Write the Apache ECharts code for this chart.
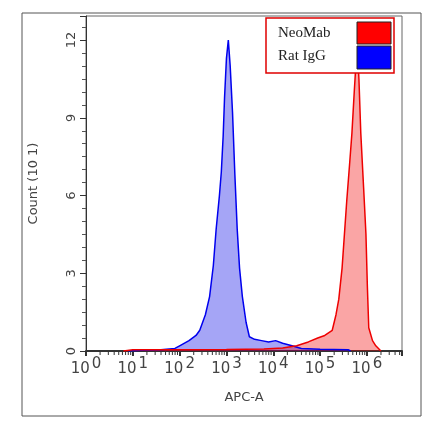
<!DOCTYPE html><html><head><meta charset="utf-8">
<script src="https://cdn.jsdelivr.net/npm/echarts@6/dist/echarts.min.js"></script>
<style>html,body{margin:0;background:#fff}#c{width:434px;height:442px}</style></head><body><div id="c"></div>
<script>
const xTickLabels=['0','1','2','3','4','5','6'];
const ratIgG=[[0.9,0],[1.2,0.03],[1.6,0.05],[1.9,0.1],[2.0,0.2],[2.2,0.4],[2.35,0.6],[2.43,0.8],[2.55,1.4],[2.64,2.1],[2.72,3.3],[2.78,4.7],[2.85,6.0],[2.89,6.9],[2.93,8.3],[2.96,9.8],[3.0,11.3],[3.04,12.0],[3.08,11.0],[3.13,9.2],[3.18,6.8],[3.23,4.7],[3.28,3.2],[3.34,2.1],[3.42,1.1],[3.49,0.55],[3.6,0.45],[3.75,0.4],[3.9,0.35],[4.05,0.4],[4.2,0.3],[4.4,0.2],[4.6,0.1],[5.0,0.07],[5.6,0.05],[5.65,0]];
const neoMab=[[0.8,0],[1.0,0.05],[2.0,0.05],[3.0,0.06],[3.8,0.08],[4.2,0.12],[4.5,0.2],[4.75,0.35],[4.95,0.5],[5.1,0.6],[5.26,0.8],[5.34,1.4],[5.4,2.0],[5.47,3.2],[5.52,4.5],[5.57,5.8],[5.63,7.2],[5.68,8.4],[5.73,10.0],[5.77,11.2],[5.79,12.0],[5.83,10.5],[5.87,8.4],[5.93,6.3],[5.98,4.5],[6.01,2.5],[6.04,0.9],[6.12,0.4],[6.19,0.2],[6.3,0]];
const minorTicks=[];for(let d=0;d<7;d++)for(let k=2;k<10;k++){const v=d+Math.log10(k);if(v<6.75)minorTicks.push(v);}
const ch=echarts.init(document.getElementById('c'));
const lab={color:'#444',fontFamily:'DejaVu Sans',rich:{b:{fontSize:15,color:'#444',verticalAlign:'bottom'},s:{fontSize:15,color:'#444',padding:[0,0,5,2]}}};
ch.setOption({animation:false,
grid:{left:86,top:16,right:32,bottom:91,show:true,borderColor:'#666',borderWidth:1},
xAxis:{type:'value',min:0,max:6.75,interval:1,name:'APC-A',nameLocation:'middle',nameGap:40,nameTextStyle:{fontSize:13,color:'#444',fontFamily:'DejaVu Sans'},
axisLine:{lineStyle:{color:'#333',width:2}},axisTick:{length:5,lineStyle:{color:'#333',width:2}},splitLine:{show:false},
axisLabel:Object.assign({margin:6,formatter:v=>Number.isInteger(v)&&v<=6?'{b|10}{s|'+xTickLabels[v]+'}':''},lab)},
yAxis:{type:'value',min:0,max:12.93,interval:3,name:'Count (10 1)',nameLocation:'middle',nameGap:46,nameTextStyle:{fontSize:13,color:'#444',fontFamily:'DejaVu Sans'},
axisLine:{lineStyle:{color:'#333'}},axisTick:{length:6,lineStyle:{color:'#333'}},minorTick:{show:true,splitNumber:6,length:4,lineStyle:{color:'#555'}},splitLine:{show:false},
axisLabel:{rotate:90,fontSize:13,color:'#444',margin:8,fontFamily:'DejaVu Sans',formatter:v=>v%3===0?String(v):''}},
series:[
{type:'custom',renderItem:(p,api)=>{const a=api.coord([api.value(0),0]);return{type:'line',shape:{x1:a[0],y1:a[1],x2:a[0],y2:a[1]+4},style:{stroke:'#333',lineWidth:1}}},data:minorTicks.map(v=>[v]),encode:{x:0},z:1,silent:true},
{type:'line',data:ratIgG,symbol:'none',lineStyle:{color:'#0000ee',width:1.5},areaStyle:{color:'rgba(0,0,230,0.5)'},z:3},
{type:'line',data:neoMab,symbol:'none',lineStyle:{color:'#ee0000',width:1.5},areaStyle:{color:'rgba(240,0,0,0.5)'},z:3}],
graphic:[
{type:'rect',shape:{x:22,y:13,width:399,height:403},style:{fill:'none',stroke:'#555',lineWidth:1},z:-1},
{type:'rect',shape:{x:266,y:18,width:128,height:55},style:{fill:'#fff',stroke:'#e00000',lineWidth:1.5},z:10},
{type:'text',x:278,y:26,style:{text:'NeoMab',font:'15px "Liberation Serif"',fill:'#222'},z:11},
{type:'text',x:278,y:49,style:{text:'Rat IgG',font:'15px "Liberation Serif"',fill:'#222'},z:11},
{type:'rect',shape:{x:357,y:22,width:34,height:22},style:{fill:'#ff0000',stroke:'#222',lineWidth:1},z:11},
{type:'rect',shape:{x:357,y:46,width:34,height:23},style:{fill:'#0000ff',stroke:'#222',lineWidth:1},z:11}]
});
</script></body></html>
